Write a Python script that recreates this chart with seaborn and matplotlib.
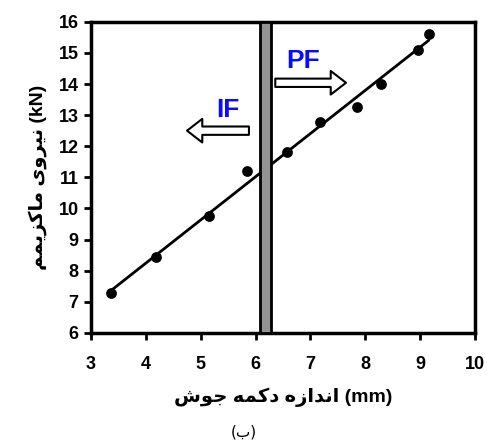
import numpy as np
import pandas as pd
import matplotlib
matplotlib.use('Agg')
import matplotlib.pyplot as plt
import seaborn as sns

# 資料 (weld nugget size vs. max load)
nugget_mm = [3.36, 4.18, 5.16, 5.84, 6.57, 7.17, 7.85, 8.28, 8.96, 9.16]
max_load_kn = [7.28, 8.45, 9.75, 11.2, 11.82, 12.78, 13.27, 14.0, 15.08, 15.62]
x_ticks = [3, 4, 5, 6, 7, 8, 9, 10]
y_ticks = [6, 7, 8, 9, 10, 11, 12, 13, 14, 15, 16]
transition_band = (6.08, 6.29)

# 波斯文標籤 (presentation forms, visual order, since matplotlib has no shaping)
word_niroo = '\uFBFC\uFEED\uFEAE\uFBFF\uFEE7'           # نیروی
word_maximum = '\uFEE2\uFEE4\uFBFE\uFEB0\uFB90\uFE8E\uFEE3'  # ماکزیمم
word_andaze = '\uFEE9\uFEAF\uFE8D\uFEAA\uFEE7\uFE8D'     # اندازه
word_dokme = '\uFEEA\uFEE4\uFB90\uFEA9'                  # دکمه
word_joosh = '\uFEB5\uFEEE\uFE9F'                        # جوش
y_label = word_maximum + ' ' + word_niroo + ' (kN)'
x_label = word_joosh + ' ' + word_dokme + ' ' + word_andaze + ' (mm)'
caption = '(\uFE8F)'

sns.set_style('white')
plt.rcParams['font.family'] = ['Liberation Sans', 'DejaVu Sans']
plt.rcParams['text.color'] = 'black'
plt.rcParams['axes.labelcolor'] = 'black'
plt.rcParams['xtick.color'] = 'black'
plt.rcParams['ytick.color'] = 'black'

df = pd.DataFrame({'size': nugget_mm, 'load': max_load_kn})

fig = plt.figure(figsize=(4.87, 4.45), dpi=100)
ax = fig.add_axes([0.187, 0.252, 0.788, 0.699])

sns.regplot(data=df, x='size', y='load', ci=None, ax=ax,
            scatter_kws=dict(s=60, color='black', alpha=1, zorder=3, linewidths=0),
            line_kws=dict(color='black', lw=2, zorder=2))

# 過渡區 (IF / PF)
ax.axvspan(*transition_band, facecolor='#939393', edgecolor='black', lw=2, zorder=4)

arrow_style = 'simple,head_length=1.1,head_width=1.7,tail_width=0.6'
ax.annotate('', xy=(4.75, 12.5), xytext=(5.88, 12.5),
            arrowprops=dict(arrowstyle=arrow_style, fc='white', ec='black', lw=1.5,
                            mutation_scale=10, shrinkA=0, shrinkB=0))
ax.annotate('', xy=(7.65, 14.04), xytext=(6.36, 14.04),
            arrowprops=dict(arrowstyle=arrow_style, fc='white', ec='black', lw=1.5,
                            mutation_scale=10, shrinkA=0, shrinkB=0))
ax.text(5.5, 13.15, 'IF', color='#0a0aff', fontsize=19, fontweight='bold', ha='center', va='center')
ax.text(6.87, 14.75, 'PF', color='#0a0aff', fontsize=19, fontweight='bold', ha='center', va='center')

ax.set_xlim(3, 10)
ax.set_ylim(6, 16)
ax.set_xticks(x_ticks)
ax.set_yticks(y_ticks)
for lab in ax.get_xticklabels() + ax.get_yticklabels():
    lab.set_fontweight('bold')
ax.tick_params(axis='both', labelsize=13, direction='out', length=5, width=2, color='black',
               bottom=True, left=True, pad=4)
ax.tick_params(axis='x', pad=12)
for sp in ax.spines.values():
    sp.set_linewidth(2.5)
    sp.set_color('black')

ax.set_xlabel(x_label, fontsize=14, fontweight='bold', labelpad=10)
ax.set_ylabel(y_label, fontsize=14, fontweight='bold', labelpad=8)

fig.text(0.5, 0.03, caption, ha='center', va='center', fontsize=11, family='DejaVu Sans')

plt.savefig('out.png', dpi=100)
plt.close()
